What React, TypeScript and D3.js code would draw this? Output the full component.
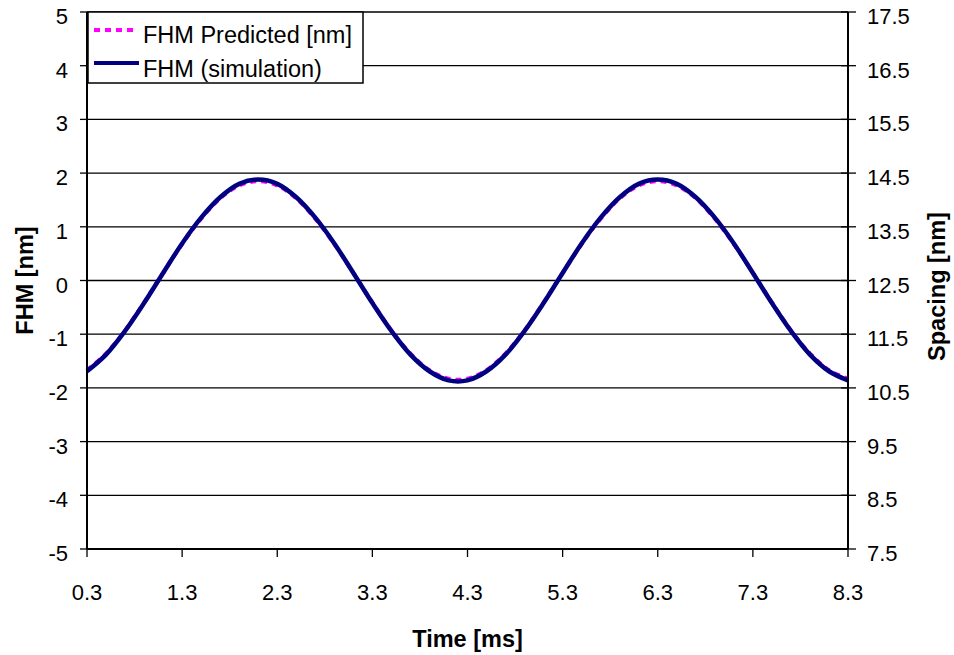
import React from "react";
import * as d3 from "d3";

const times = [0.3, 0.5, 0.7, 0.9, 1.1, 1.3, 1.5, 1.7, 1.9, 2.1, 2.3, 2.5, 2.7, 2.9, 3.1, 3.3, 3.5, 3.7, 3.9, 4.1, 4.3, 4.5, 4.7, 4.9, 5.1, 5.3, 5.5, 5.7, 5.9, 6.1, 6.3, 6.5, 6.7, 6.9, 7.1, 7.3, 7.5, 7.7, 7.9, 8.1, 8.3];
const fhmSimulation = [-1.69, -1.38, -0.94, -0.42, 0.14, 0.69, 1.17, 1.55, 1.80, 1.88, 1.80, 1.55, 1.17, 0.69, 0.14, -0.42, -0.94, -1.38, -1.69, -1.86, -1.86, -1.69, -1.38, -0.94, -0.42, 0.14, 0.69, 1.17, 1.55, 1.80, 1.88, 1.80, 1.55, 1.17, 0.69, 0.14, -0.42, -0.94, -1.38, -1.69, -1.86];
const fhmPredicted = [-1.67, -1.36, -0.93, -0.41, 0.14, 0.68, 1.15, 1.53, 1.77, 1.85, 1.77, 1.53, 1.15, 0.68, 0.14, -0.41, -0.93, -1.36, -1.67, -1.83, -1.83, -1.67, -1.36, -0.93, -0.41, 0.14, 0.68, 1.15, 1.53, 1.77, 1.85, 1.77, 1.53, 1.15, 0.68, 0.14, -0.41, -0.93, -1.36, -1.67, -1.83];
const xTicks = [0.3, 1.3, 2.3, 3.3, 4.3, 5.3, 6.3, 7.3, 8.3];
const yTicks = [5, 4, 3, 2, 1, 0, -1, -2, -3, -4, -5];
const y2Ticks = [17.5, 16.5, 15.5, 14.5, 13.5, 12.5, 11.5, 10.5, 9.5, 8.5, 7.5];
const seriesNames = ["FHM Predicted [nm]", "FHM (simulation)"];

const W = 954, H = 655;
const L = 87, R = 848, T = 12, B = 549;
const FONT = "'Liberation Sans', Arial, sans-serif";

export default function App() {
  const x = d3.scaleLinear().domain([0.3, 8.3]).range([L, R]);
  const y = d3.scaleLinear().domain([-5, 5]).range([B, T]);
  const y2 = d3.scaleLinear().domain([7.5, 17.5]).range([B, T]);

  const line = d3
    .line<number>()
    .x((_, i) => x(times[i]))
    .y((d) => y(d))
    .curve(d3.curveCatmullRom.alpha(0.5));

  return (
    <div style={{ position: "absolute", left: 0, top: 0 }}>
      <svg width={W} height={H} style={{ display: "block", background: "#fff" }}>
        <rect x={0} y={0} width={W} height={H} fill="#fff" />
        {/* gridlines */}
        {yTicks.map((t) => (
          <line key={"g" + t} x1={L} x2={R} y1={y(t)} y2={y(t)} stroke="#000" strokeWidth={1.3} />
        ))}
        {/* series */}
        <path d={line(fhmPredicted) || ""} fill="none" stroke="#FF00FF" strokeWidth={4} strokeDasharray="6,5" />
        <path d={line(fhmSimulation) || ""} fill="none" stroke="#000080" strokeWidth={4.5} />
        {/* axes */}
        <line x1={L} x2={L} y1={T} y2={B} stroke="#000" strokeWidth={2} />
        <line x1={R} x2={R} y1={T} y2={B} stroke="#000" strokeWidth={2} />
        <line x1={L} x2={R} y1={B} y2={B} stroke="#000" strokeWidth={2} />
        {yTicks.map((t) => (
          <g key={"yl" + t}>
            <line x1={L - 7} x2={L} y1={y(t)} y2={y(t)} stroke="#000" strokeWidth={1.3} />
            <text x={68} y={y(t) + 12} textAnchor="end" fontFamily={FONT} fontSize={22} fill="#000">
              {t}
            </text>
          </g>
        ))}
        {y2Ticks.map((t) => (
          <g key={"yr" + t}>
            <line x1={R - 7} x2={R + 8} y1={y2(t)} y2={y2(t)} stroke="#000" strokeWidth={1.3} />
            <text x={867} y={y2(t) + 12} textAnchor="start" fontFamily={FONT} fontSize={22} fill="#000">
              {t.toFixed(1)}
            </text>
          </g>
        ))}
        {xTicks.map((t) => (
          <g key={"x" + t}>
            <line x1={x(t)} x2={x(t)} y1={B} y2={B + 8} stroke="#000" strokeWidth={1.3} />
            <text x={x(t)} y={600} textAnchor="middle" fontFamily={FONT} fontSize={22} fill="#000">
              {t.toFixed(1)}
            </text>
          </g>
        ))}
        {/* axis titles */}
        <text x={(L + R) / 2} y={647} textAnchor="middle" fontFamily={FONT} fontSize={23.5} fontWeight="bold">
          Time [ms]
        </text>
        <text transform={`translate(33,${(T + B) / 2}) rotate(-90)`} textAnchor="middle" fontFamily={FONT} fontSize={23.5} fontWeight="bold">
          FHM [nm]
        </text>
        <text transform={`translate(945,${(T + B) / 2 + 6}) rotate(-90)`} textAnchor="middle" fontFamily={FONT} fontSize={23.5} fontWeight="bold">
          Spacing [nm]
        </text>
        {/* legend */}
        <rect x={88} y={12} width={275} height={71} fill="#fff" stroke="#000" strokeWidth={1.5} />
        <line x1={94} x2={135} y1={30} y2={30} stroke="#FF00FF" strokeWidth={4} strokeDasharray="6,5" />
        <text x={143} y={43} fontFamily={FONT} fontSize={23.5} fill="#000">
          {seriesNames[0]}
        </text>
        <line x1={94} x2={139} y1={63} y2={63} stroke="#000080" strokeWidth={4} />
        <text x={143} y={77} fontFamily={FONT} fontSize={23.5} fill="#000">
          {seriesNames[1]}
        </text>
      </svg>
    </div>
  );
}
